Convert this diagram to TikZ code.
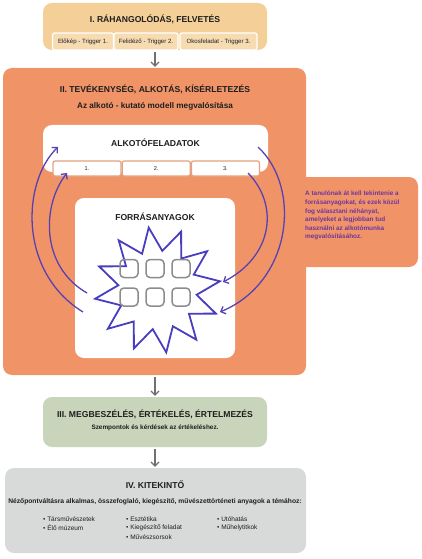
\documentclass[tikz,border=0pt]{standalone}
\usepackage{fontspec}
\setmainfont{Liberation Sans}
\usetikzlibrary{arrows.meta,positioning,shapes.geometric}
\definecolor{tanbox}{RGB}{244,208,152}
\definecolor{tanslot}{RGB}{247,220,178}
\definecolor{orangebox}{RGB}{240,148,104}
\definecolor{slotline}{RGB}{226,162,126}
\definecolor{greenbox}{RGB}{201,213,186}
\definecolor{greybox}{RGB}{216,218,218}
\definecolor{pickcol}{RGB}{88,66,178}
\definecolor{starcol}{RGB}{72,62,190}
\definecolor{notecol}{RGB}{112,52,160}
\definecolor{ink}{RGB}{30,30,30}
\definecolor{flowcol}{RGB}{112,112,112}

\tikzset{
  stage/.style={rounded corners=9pt, inner sep=0pt},
  title/.style={font=\fontsize{8.6}{10}\selectfont\bfseries, text=ink, inner sep=1pt},
  subtitle/.style={font=\fontsize{8.2}{10}\selectfont\bfseries, text=ink, inner sep=1pt},
  small/.style={font=\fontsize{6.5}{7.5}\selectfont, text=ink, inner sep=1pt},
  trig/.style={draw=white, line width=1.2pt, fill=tanslot, rounded corners=2pt,
    minimum height=17pt, inner sep=0pt, font=\fontsize{6.1}{7}\selectfont, text=ink},
  slot/.style={draw=slotline, line width=1.2pt, fill=white, rounded corners=2pt,
    minimum height=15pt, minimum width=68pt, inner sep=0pt,
    font=\fontsize{5.6}{7}\selectfont, text=ink},
  tile/.style={draw=black!45, line width=1.5pt, rounded corners=4pt,
    minimum size=18pt, inner sep=0pt},
  flow/.style={->, draw=flowcol, line width=1.2pt, shorten <=2pt, shorten >=1pt},
  pick/.style={->, draw=pickcol, line width=1.3pt}
}

\begin{document}
\begin{tikzpicture}[x=1pt, y=-1pt, >={Straight Barb[length=4pt,width=8pt]}]
  \useasboundingbox (0,0) rectangle (422,559);

  % I. stage
  \node[stage, fill=tanbox, minimum width=224pt, minimum height=47pt] (s1) at (155,26.5) {};
  \node[title] (s1t) at (155,19) {I. RÁHANGOLÓDÁS, FELVETÉS};
  \node[trig, minimum width=61pt] (trig1) at (83,41.5) {Előkép - Trigger 1.};
  \node[trig, minimum width=64pt] (trig2) at (146,41.5) {Felidéző - Trigger 2.};
  \node[trig, minimum width=77pt] (trig3) at (218.5,41.5) {Okosfeladat - Trigger 3.};

  % II. stage with side note
  \node[stage, fill=orangebox, minimum width=128pt, minimum height=90pt] (note) at (354,222) {};
  \node[stage, fill=orangebox, minimum width=303pt, minimum height=307pt] (s2) at (154.5,221.5) {};
  \node[title] (s2t) at (155,89) {II. TEVÉKENYSÉG, ALKOTÁS, KÍSÉRLETEZÉS};
  \node[subtitle, below=7pt of s2t] (s2s) {Az alkotó - kutató modell megvalósítása};
  \node[anchor=north west, align=left, inner sep=0pt, text=notecol,
    font=\fontsize{6.4}{8.6}\selectfont\bfseries] (notetext) at (305,191)
    {A tanulónak át kell tekintenie a\\ forrásanyagokat, és ezek közül\\
     fog választani néhányat,\\ amelyeket a legjobban tud\\
     használni az alkotómunka\\ megvalósításához.};

  % Alkotófeladatok
  \node[stage, fill=white, minimum width=225pt, minimum height=47pt] (tasks) at (155.5,148.5) {};
  \node[title] (taskst) at (155.5,143) {ALKOTÓFELADATOK};
  \node[slot] (task1) at (87,168.5) {1.};
  \node[slot, right=0pt of task1] (task2) {2.};
  \node[slot, right=0pt of task2] (task3) {3.};

  % Forrásanyagok
  \node[stage, fill=white, minimum width=160pt, minimum height=160pt] (src) at (155,278) {};
  \node[title] (srct) at (155,217) {FORRÁSANYAGOK};
  \node[star, star points=12, star point ratio=1.6, minimum size=126pt,
    draw=starcol, line width=1.8pt, inner sep=0pt, rotate=8] (burst) at (157.5,290) {};
  \foreach \c/\x in {1/129,2/155,3/181}
    \foreach \r/\y in {1/268.5,2/297}
      \node[tile] (tile\r\c) at (\x,\y) {};

  % selection arrows
  \coordinate (l1s) at (83,312);  \coordinate (l1e) at (58,147);
  \coordinate (l2s) at (87,293);  \coordinate (l2e) at (67,173);
  \coordinate (r1s) at (258,147); \coordinate (r1e) at (220,312);
  \coordinate (r2s) at (248,173); \coordinate (r2e) at (223,282);
  \draw[pick] (l1s) .. controls (18,272) and (22,182) .. (l1e);
  \draw[pick] (l2s) .. controls (40,266) and (42,205) .. (l2e);
  \draw[pick] (r1s) .. controls (302,188) and (292,282) .. (r1e);
  \draw[pick] (r2s) .. controls (280,206) and (272,257) .. (r2e);

  % III. stage
  \node[stage, fill=greenbox, minimum width=224pt, minimum height=50pt] (s3) at (155,422) {};
  \node[title] (s3t) at (155,414) {III. MEGBESZÉLÉS, ÉRTÉKELÉS, ÉRTELMEZÉS};
  \node[small, font=\fontsize{6.4}{7.5}\selectfont\bfseries, below=4pt of s3t] (s3s)
    {Szempontok és kérdések az értékeléshez.};

  % IV. stage
  \node[stage, fill=greybox, minimum width=301pt, minimum height=85pt] (s4) at (155.5,510.5) {};
  \node[title] (s4t) at (155,485) {IV. KITEKINTŐ};
  \node[small, font=\fontsize{6.7}{7.5}\selectfont\bfseries] (s4s) at (155,502)
    {Nézőpontváltásra alkalmas, összefoglaló, kiegészítő, művészettörténeti anyagok a témához:};
  \node[small, anchor=west] (b1) at (42,519) {\textbullet\ Társművészetek};
  \node[small, below=1pt of b1.south west, anchor=north west] (b2) {\textbullet\ Élő múzeum};
  \node[small, anchor=west] (b3) at (125,519) {\textbullet\ Esztétika};
  \node[small, below=1pt of b3.south west, anchor=north west] (b4) {\textbullet\ Kiegészítő feladat};
  \node[small, below=1pt of b4.south west, anchor=north west] (b5) {\textbullet\ Művészsorsok};
  \node[small, anchor=west] (b6) at (216,519) {\textbullet\ Utóhatás};
  \node[small, below=1pt of b6.south west, anchor=north west] (b7) {\textbullet\ Műhelytitkok};

  % flow between stages
  \draw[flow] (s1.south) -- (s1.south |- s2.north);
  \draw[flow] (s2.south -| s3.north) -- (s3.north);
  \draw[flow] (s3.south) -- (s3.south |- s4.north);
\end{tikzpicture}
\end{document}
